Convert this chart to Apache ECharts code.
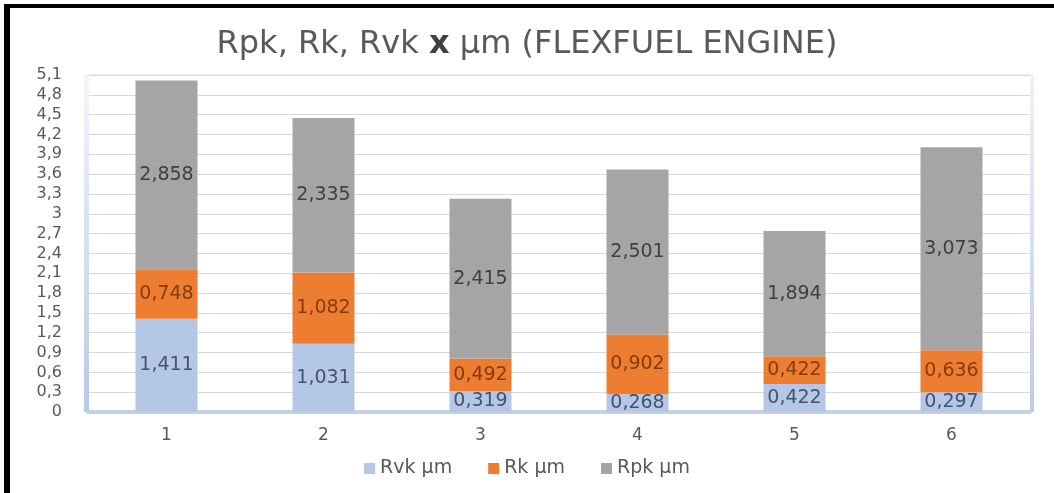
<!DOCTYPE html>
<html>
<head>
<meta charset="utf-8">
<script src="https://cdn.jsdelivr.net/npm/echarts@6/dist/echarts.min.js"></script>
<style>
  html, body { margin: 0; padding: 0; background: #ffffff; }
  #chart { width: 1054px; height: 493px; }
</style>
</head>
<body>
<div id="chart"></div>
<script>
// Sample numbers along the x axis
const categories = ['1', '2', '3', '4', '5', '6'];

// Roughness parameters (µm), stacked bottom to top
const rvkValues = [1.411, 1.031, 0.319, 0.268, 0.422, 0.297];
const rkValues  = [0.748, 1.082, 0.492, 0.902, 0.422, 0.636];
const rpkValues = [2.858, 2.335, 2.415, 2.501, 1.894, 3.073];

const seriesNames = ['Rvk µm', 'Rk µm', 'Rpk µm'];

// Y axis runs 0 to 5,1 in steps of 0,3
const yMin = 0;
const yMax = 5.1;
const yStep = 0.3;

const FONT = 'DejaVu Sans';
const comma = (v, d) => (d === undefined ? String(+v.toFixed(1)) : v.toFixed(d)).replace('.', ',');

const chart = echarts.init(document.getElementById('chart'), null, { renderer: 'canvas' });

function barSeries(name, data, color, labelColor) {
  return {
    name: name,
    type: 'bar',
    stack: 'total',
    data: data,
    barWidth: '39.5%',
    itemStyle: { color: color },
    label: {
      show: true,
      position: 'inside',
      color: labelColor,
      fontFamily: FONT,
      fontSize: 19,
      formatter: p => comma(p.value, 3)
    },
    emphasis: { disabled: true }
  };
}

chart.setOption({
  backgroundColor: '#ffffff',
  animation: false,
  title: {
    text: '{a|Rpk, Rk, Rvk }{b|x}{a| µm (FLEXFUEL ENGINE)}',
    left: 'center',
    top: 24,
    textStyle: {
      fontWeight: 'normal',
      rich: {
        a: { fontFamily: FONT, fontSize: 32, color: '#595959', fontWeight: 'normal' },
        b: { fontFamily: FONT, fontSize: 32, color: '#404040', fontWeight: 'bold' }
      }
    }
  },
  legend: {
    data: seriesNames,
    bottom: 10,
    left: 'center',
    icon: 'rect',
    itemWidth: 11,
    itemHeight: 11,
    itemGap: 36,
    textStyle: { fontFamily: FONT, fontSize: 19, color: '#595959' }
  },
  grid: { left: 88, right: 24, top: 75, bottom: 81, containLabel: false },
  xAxis: {
    type: 'category',
    data: categories,
    axisTick: { show: false },
    axisLine: { show: true, lineStyle: { color: '#c3d0ea', width: 4 } },
    axisLabel: { fontFamily: FONT, fontSize: 17, color: '#595959', margin: 15 }
  },
  yAxis: {
    type: 'value',
    min: yMin,
    max: yMax,
    interval: yStep,
    axisLine: { show: false },
    axisTick: { show: false },
    splitLine: { lineStyle: { color: '#d9d9d9', width: 1 } },
    axisLabel: {
      fontFamily: FONT,
      fontSize: 16,
      color: '#595959',
      margin: 26,
      formatter: v => comma(v)
    }
  },
  graphic: [
    // outer frame edges
    { type: 'rect', shape: { x: 4, y: 4, width: 1050, height: 4 }, style: { fill: '#000000' }, z: 100 },
    { type: 'rect', shape: { x: 4, y: 4, width: 6, height: 489 }, style: { fill: '#000000' }, z: 100 },
    // side walls of the plot area
    {
      type: 'rect', shape: { x: 84, y: 75, width: 5, height: 337 },
      style: { fill: new echarts.graphic.LinearGradient(0, 0, 0, 1, [
        { offset: 0, color: '#f3f6fb' }, { offset: 1, color: '#b8c9e8' }]) },
      z: 1
    },
    {
      type: 'rect', shape: { x: 1030, y: 75, width: 4, height: 337 },
      style: { fill: new echarts.graphic.LinearGradient(0, 0, 0, 1, [
        { offset: 0, color: '#eef2f9' }, { offset: 1, color: '#bccbe8' }]) },
      z: 1
    },
    { type: 'rect', shape: { x: 84, y: 74, width: 950, height: 1 }, style: { fill: '#eef1f6' }, z: 1 }
  ],
  series: [
    barSeries(seriesNames[0], rvkValues, '#b4c7e7', '#44546a'),
    barSeries(seriesNames[1], rkValues, '#ed7d31', '#843c0c'),
    barSeries(seriesNames[2], rpkValues, '#a5a5a5', '#404040')
  ]
});
</script>
</body>
</html>
